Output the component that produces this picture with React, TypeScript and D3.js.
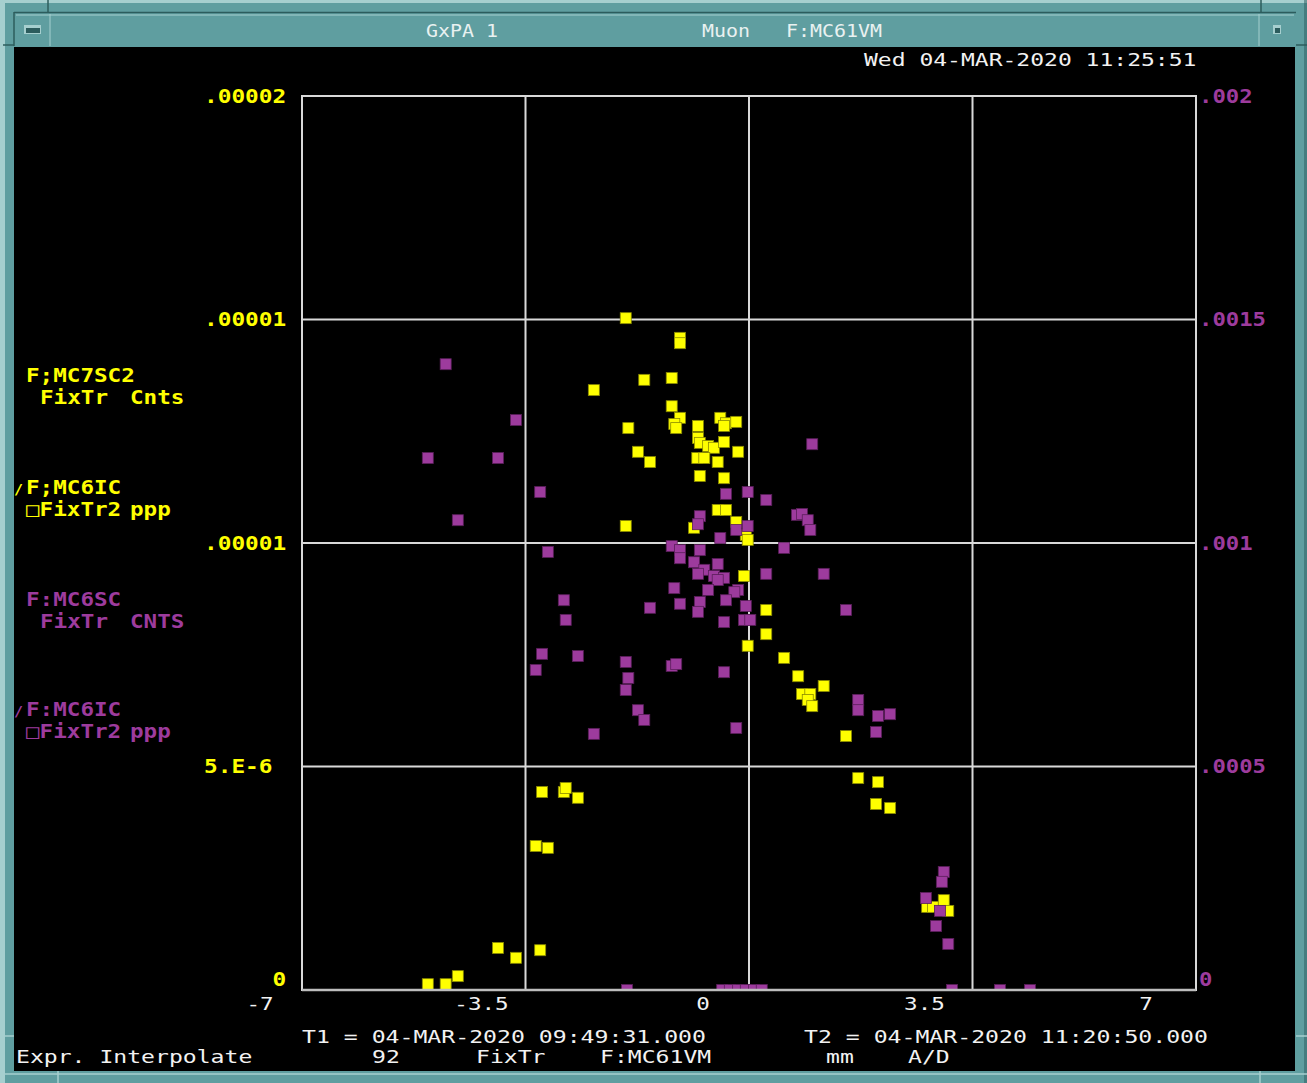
import React from 'react';
import * as d3 from 'd3';

// ---------- data ----------
const xTicks = [-7, -3.5, 0, 3.5, 7];
const xTickLabels = ['-7', '-3.5', '0', '3.5', '7'];
const leftTicks = [2e-5, 1.5e-5, 1e-5, 5e-6, 0];
const leftTickLabels = ['.00002', '.00001', '.00001', '5.E-6 ', '     0'];
const rightTicks = [0.002, 0.0015, 0.001, 0.0005, 0];
const rightTickLabels = ['.002', '.0015', '.001', '.0005', '0'];
const gridX = [-3.5, 0, 3.5];
const gridY = [5e-6, 1e-5, 1.5e-5];

// F;MC7SC2 FixTr Cnts : [x mm, y in 1e-6] (left axis)
const yellowPoints: [number, number][] = [
  [-1.93, 15.03], [-1.08, 14.59], [-1.08, 14.47], [-2.43, 13.42], [-1.64, 13.65], [-1.21, 13.69],
  [-1.21, 13.06], [-1.08, 12.8], [-1.17, 12.66], [-1.14, 12.57], [-1.89, 12.57], [-0.8, 12.62],
  [-0.45, 12.8], [-0.36, 12.68], [-0.39, 12.62], [-0.2, 12.71], [-0.8, 12.35], [-0.77, 12.24],
  [-0.64, 12.17], [-0.55, 12.13], [-0.39, 12.26], [-1.74, 12.04], [-1.55, 11.81], [-0.81, 11.9],
  [-0.7, 11.9], [-0.49, 11.81], [-0.17, 12.04], [-0.77, 11.5], [-0.39, 11.45], [-0.49, 10.74],
  [-0.36, 10.74], [-1.93, 10.38], [-0.86, 10.34], [-0.2, 10.47], [-0.05, 10.18], [-0.02, 10.07],
  [-0.08, 9.26], [0.27, 8.5], [0.27, 7.96], [-0.02, 7.7], [0.55, 7.43], [0.77, 7.02],
  [1.17, 6.8], [0.83, 6.62], [0.96, 6.62], [0.92, 6.49], [0.99, 6.35], [1.52, 5.68],
  [1.71, 4.74], [2.02, 4.65], [1.99, 4.16], [2.21, 4.07], [2.79, 1.86], [2.88, 1.86],
  [3.05, 2.01], [3.12, 1.77], [-3.24, 4.43], [-2.9, 4.43], [-2.87, 4.52], [-2.68, 4.3],
  [-3.34, 3.22], [-3.15, 3.18], [-3.93, 0.94], [-3.65, 0.72], [-3.27, 0.89], [-4.56, 0.31],
  [-5.03, 0.13], [-4.75, 0.13],
];

// F:MC6SC FixTr CNTS : [x mm, y in 1e-4] (right axis)
const purplePoints: [number, number][] = [
  [-4.75, 14.0], [-3.65, 12.75], [-5.03, 11.9], [-3.93, 11.9], [-3.27, 11.14], [-4.56, 10.51],
  [-3.15, 9.8], [-2.9, 8.72], [-2.87, 8.28], [-1.55, 8.55], [-3.24, 7.52], [-2.68, 7.47],
  [-3.34, 7.16], [-1.93, 7.34], [-1.89, 6.98], [-1.93, 6.71], [-1.74, 6.26], [-1.64, 6.04],
  [-2.43, 5.73], [-1.21, 9.93], [-1.08, 9.84], [-1.08, 9.66], [-1.17, 8.99], [-1.08, 8.64],
  [-1.21, 7.25], [-1.14, 7.29], [-0.45, 10.11], [-0.77, 9.84], [-0.86, 9.57], [-0.49, 9.53],
  [-0.7, 9.4], [-0.8, 9.31], [-0.55, 9.26], [-0.39, 9.22], [-0.49, 9.17], [-0.64, 8.95],
  [-0.17, 8.95], [-0.23, 8.9], [-0.77, 8.68], [-0.36, 8.72], [-0.8, 8.46], [-0.05, 8.59],
  [-0.08, 8.28], [0.02, 8.28], [-0.39, 8.23], [0.27, 9.31], [0.55, 9.89], [-0.39, 7.11],
  [-0.2, 5.86], [-0.36, 11.1], [-0.02, 11.14], [0.27, 10.96], [-0.77, 10.6], [-0.8, 10.42],
  [-0.2, 10.29], [-0.02, 10.38], [0.75, 10.63], [0.83, 10.65], [0.92, 10.51], [0.96, 10.29],
  [0.99, 12.21], [1.17, 9.31], [1.52, 8.5], [1.71, 6.49], [1.71, 6.26], [2.02, 6.13],
  [2.21, 6.17], [1.99, 5.77], [3.05, 2.64], [3.02, 2.42], [2.77, 2.06], [2.99, 1.77],
  [2.93, 1.43], [3.12, 1.03], [-1.91, 0], [-0.42, 0], [-0.3, 0], [-0.17, 0],
  [-0.05, 0], [0.08, 0], [0.2, 0], [3.18, 0], [3.93, 0], [4.4, 0],
];

// ---------- styles ----------
const W = 1307, H = 1083;
const PL = 302, PR = 1196, PT = 96, PB = 990;
const TEAL = '#5f9ea0';
const TEAL_LIGHT = '#a6cfcf';
const TEAL_DARK = '#2c5c5d';
const YELLOW = '#ffff00';
const PURPLE = '#9d3b9d';
const WHITE = '#f2f2f2';
const GRID = '#d9d9d9';
const FONT = "'DejaVu Sans Mono', 'Liberation Mono', monospace";
const CW = 13.75;

type TProps = {
  x: number; y: number; s: string; fill: string; size?: number; weight?: number | string;
  cw?: number; anchor?: 'start' | 'middle' | 'end';
};
const T = ({ x, y, s, fill, size = 17, weight = 400, cw = CW, anchor = 'start' }: TProps) => (
  <text
    x={x}
    y={y + size * 0.36}
    fill={fill}
    fontFamily={FONT}
    fontSize={size}
    fontWeight={weight}
    textAnchor={anchor}
    textLength={s.length * cw}
    lengthAdjust="spacingAndGlyphs"
    style={{ whiteSpace: 'pre' }}
  >
    {s}
  </text>
);

export default function App() {
  const x = d3.scaleLinear().domain([-7, 7]).range([PL, PR]);
  const xLabel = d3.scaleLinear().domain([-7, 7]).range([260, 1146]);
  const yL = d3.scaleLinear().domain([0, 2e-5]).range([PB, PT]);
  const yR = d3.scaleLinear().domain([0, 0.002]).range([PB, PT]);
  const M = 11;

  return (
    <svg width={W} height={H} style={{ position: 'absolute', left: 0, top: 0 }}>
      <defs>
        <clipPath id="plotClip">
          <rect x={PL} y={PT} width={PR - PL} height={PB - PT} />
        </clipPath>
      </defs>
      {/* window chrome */}
      <rect x={0} y={0} width={W} height={H} fill={TEAL} />
      <rect x={0} y={0} width={W} height={3} fill={TEAL_LIGHT} />
      <rect x={0} y={0} width={5} height={H} fill={TEAL_LIGHT} />
      <rect x={W - 3} y={0} width={3} height={H} fill={TEAL_DARK} opacity={0.5} />
      <line x1={48} y1={0} x2={48} y2={13} stroke={TEAL_DARK} strokeWidth={1.5} />
      <line x1={1261} y1={0} x2={1261} y2={13} stroke={TEAL_DARK} strokeWidth={1.5} />
      <line x1={14} y1={12.5} x2={1296} y2={12.5} stroke={TEAL_DARK} strokeWidth={1.5} />
      <line x1={14} y1={12} x2={14} y2={46} stroke={TEAL_DARK} strokeWidth={1.5} />
      <line x1={16} y1={15} x2={1294} y2={15} stroke={TEAL_LIGHT} strokeWidth={1} />
      <line x1={50} y1={14} x2={50} y2={46} stroke={TEAL_LIGHT} strokeWidth={1} />
      <line x1={1259} y1={14} x2={1259} y2={46} stroke={TEAL_LIGHT} strokeWidth={1} />
      <line x1={3} y1={45} x2={14} y2={45} stroke={TEAL_DARK} strokeWidth={1.5} />
      <line x1={1296} y1={45} x2={1307} y2={45} stroke={TEAL_DARK} strokeWidth={1.5} />
      {/* title buttons */}
      <rect x={24} y={25} width={17} height={9} fill={TEAL_LIGHT} />
      <rect x={26} y={28} width={14} height={5} fill={TEAL_DARK} />
      <rect x={1273} y={25} width={8} height={9} fill={TEAL_LIGHT} />
      <rect x={1275} y={28} width={5} height={5} fill={TEAL_DARK} />
      {/* black client area */}
      <rect x={14} y={47} width={1281} height={1024} fill="#000" />
      <line x1={0} y1={1074} x2={W} y2={1074} stroke={TEAL_LIGHT} strokeWidth={1.5} />
      <line x1={1260} y1={1071} x2={1260} y2={H} stroke={TEAL_LIGHT} strokeWidth={1.5} />
      <line x1={58} y1={1071} x2={58} y2={H} stroke={TEAL_LIGHT} strokeWidth={1.5} />
      <line x1={1296} y1={1036} x2={W} y2={1036} stroke={TEAL_LIGHT} strokeWidth={1.5} />
      <line x1={0} y1={1036} x2={14} y2={1036} stroke={TEAL_LIGHT} strokeWidth={1.5} />

      {/* title */}
      <T x={426} y={31} s="GxPA 1" fill="#e9f1f1" size={18} cw={12} />
      <T x={702} y={31} s="Muon" fill="#e9f1f1" size={18} cw={12} />
      <T x={786} y={31} s="F:MC61VM" fill="#e9f1f1" size={18} cw={12} />
      <T x={864} y={60} s="Wed 04-MAR-2020 11:25:51" fill={WHITE} size={17} cw={13.85} />

      {/* grid */}
      {gridX.map((v) => (
        <line key={'gx' + v} x1={x(v)} x2={x(v)} y1={PT} y2={PB} stroke={GRID} strokeWidth={2} />
      ))}
      {gridY.map((v) => (
        <line key={'gy' + v} x1={PL} x2={PR} y1={yL(v)} y2={yL(v)} stroke={GRID} strokeWidth={2} />
      ))}
      <rect x={PL} y={PT} width={PR - PL} height={PB - PT} fill="none" stroke={GRID} strokeWidth={2} />

      {/* markers */}
      <g clipPath="url(#plotClip)">
        {yellowPoints.map(([px, py], i) => (
          <rect
            key={'y' + i}
            x={x(px) - M / 2}
            y={yL(py * 1e-6) - M / 2}
            width={M}
            height={M}
            fill={YELLOW}
            stroke="#8a8a00"
            strokeWidth={0.8}
          />
        ))}
        {purplePoints.map(([px, py], i) => (
          <rect
            key={'p' + i}
            x={x(px) - M / 2}
            y={yR(py * 1e-4) - M / 2}
            width={M}
            height={M}
            fill={PURPLE}
            stroke="#5a1f5a"
            strokeWidth={0.8}
          />
        ))}
      </g>
      <line x1={PL} x2={PR} y1={PB} y2={PB} stroke="#bdbdbd" strokeWidth={2.5} />

      {/* left axis labels */}
      {leftTicks.map((v, i) => (
        <T key={'l' + i} x={204} y={v === 0 ? yL(v) - 11 : yL(v)} s={leftTickLabels[i]} fill={YELLOW} size={19} weight={700} cw={13.7} />
      ))}
      {/* right axis labels */}
      {rightTicks.map((v, i) => (
        <T key={'r' + i} x={1199} y={v === 0 ? yR(v) - 11 : yR(v)} s={rightTickLabels[i]} fill={PURPLE} size={19} weight={700} cw={13.4} />
      ))}
      {/* x axis labels */}
      {xTicks.map((v, i) => (
        <T key={'x' + i} x={xLabel(v)} y={1004} s={xTickLabels[i]} fill={WHITE} size={17} cw={13.6} anchor="middle" />
      ))}

      {/* legend */}
      <T x={26} y={375} s="F;MC7SC2" fill={YELLOW} size={19} weight={700} cw={13.6} />
      <T x={40} y={397} s="FixTr" fill={YELLOW} size={19} weight={700} cw={13.6} />
      <T x={130} y={397} s="Cnts" fill={YELLOW} size={19} weight={700} cw={13.6} />
      <T x={14} y={489} s="/" fill={YELLOW} size={14} weight={700} cw={9} />
      <T x={26} y={487} s="F;MC6IC" fill={YELLOW} size={19} weight={700} cw={13.6} />
      <T x={26} y={509} s="□FixTr2" fill={YELLOW} size={19} weight={700} cw={13.6} />
      <T x={130} y={509} s="ppp" fill={YELLOW} size={19} weight={700} cw={13.6} />

      <T x={26} y={599} s="F:MC6SC" fill={PURPLE} size={19} weight={700} cw={13.6} />
      <T x={40} y={621} s="FixTr" fill={PURPLE} size={19} weight={700} cw={13.6} />
      <T x={130} y={621} s="CNTS" fill={PURPLE} size={19} weight={700} cw={13.6} />
      <T x={14} y={711} s="/" fill={PURPLE} size={14} weight={700} cw={9} />
      <T x={26} y={709} s="F:MC6IC" fill={PURPLE} size={19} weight={700} cw={13.6} />
      <T x={26} y={731} s="□FixTr2" fill={PURPLE} size={19} weight={700} cw={13.6} />
      <T x={130} y={731} s="ppp" fill={PURPLE} size={19} weight={700} cw={13.6} />

      {/* bottom info */}
      <T x={302} y={1037} s="T1 = 04-MAR-2020 09:49:31.000" fill={WHITE} size={17} cw={13.93} />
      <T x={804} y={1037} s="T2 = 04-MAR-2020 11:20:50.000" fill={WHITE} size={17} cw={13.93} />
      <T x={16} y={1057} s="Expr. Interpolate" fill={WHITE} size={17} cw={13.9} />
      <T x={372} y={1057} s="92" fill={WHITE} size={17} cw={13.9} />
      <T x={476} y={1057} s="FixTr" fill={WHITE} size={17} cw={13.9} />
      <T x={600} y={1057} s="F:MC61VM" fill={WHITE} size={17} cw={13.9} />
      <T x={826} y={1057} s="mm" fill={WHITE} size={17} cw={13.9} />
      <T x={908} y={1057} s="A/D" fill={WHITE} size={17} cw={13.9} />
    </svg>
  );
}
